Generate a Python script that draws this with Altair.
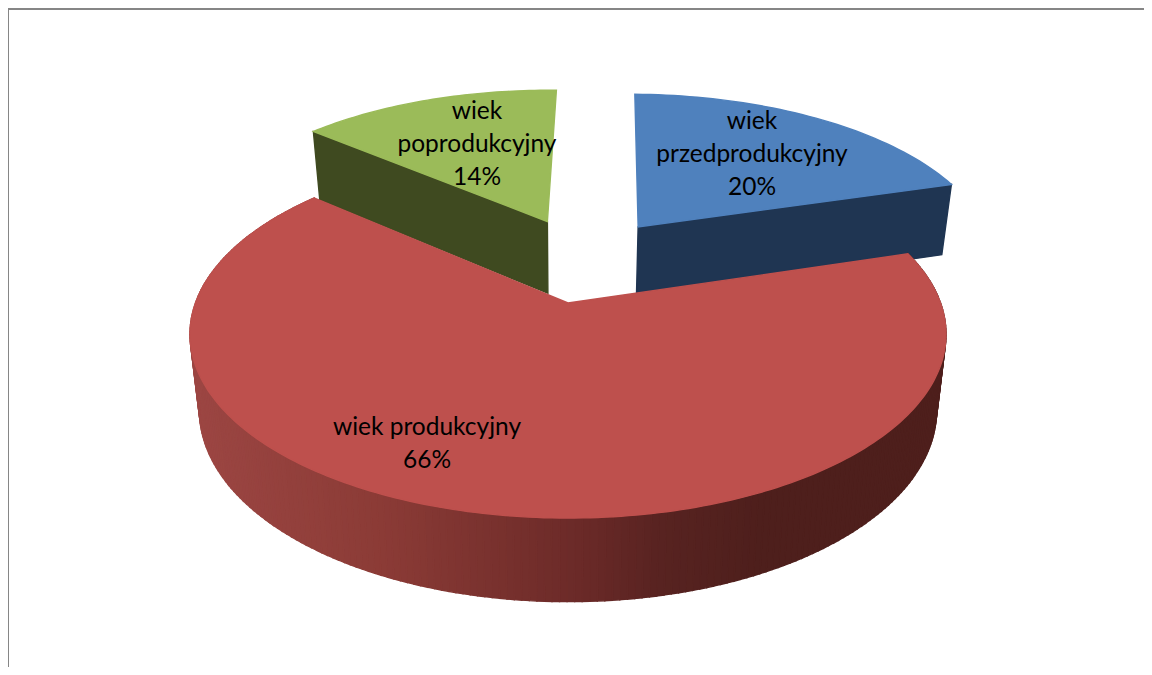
import math
import altair as alt

# --- values
categories = ["wiek przedprodukcyjny", "wiek produkcyjny", "wiek poprodukcyjny"]
shares = [20, 66, 14]
label_lines = [["wiek", "przedprodukcyjny", "20%"], ["wiek produkcyjny", "66%"], ["wiek", "poprodukcyjny", "14%"]]
top_colors = ["#4F81BD", "#BE504D", "#9BBB59"]
wall_colors = ["#1F3552", "#4E1F1C", "#3F4A20"]
explode_u = [0.203, 0.0, -0.06]
explode_v = [0.46, 0.0, 0.495]
label_x = [752, 427, 477]
label_y = [122, 428, 112]
rim_stops_x = [190, 380, 580, 660, 760, 950]
rim_stops_c = [(0x9C, 0x46, 0x43), (0x8B, 0x3B, 0x36), (0x6B, 0x2A, 0x28), (0x58, 0x23, 0x21), (0x4E, 0x1F, 0x1C), (0x4E, 0x1F, 0x1C)]
border_color = "#868686"

W, H = 1136, 659
OFF = 8  # page margin
CX, CY, A, B, K = 568, 303, 372.5, 178.5, 0.17
START = 1.2  # degrees


def top(u, v):
    s = 1 / (1 + K * v)
    return (CX + A * u * s, CY - B * v * s)


def bottom(p):
    x, y = p
    return (CX + 0.975 * (x - CX), CY + 1.04 * (y - CY) + 75)


def page(p):
    return [round(p[0] - OFF, 2), round(p[1] - OFF, 2)]


def rim_color(x):
    for i in range(len(rim_stops_x) - 1):
        if x <= rim_stops_x[i + 1]:
            t = max(0, (x - rim_stops_x[i]) / (rim_stops_x[i + 1] - rim_stops_x[i]))
            c = [round(a + (b - a) * t) for a, b in zip(rim_stops_c[i], rim_stops_c[i + 1])]
            return "#%02x%02x%02x" % tuple(c)
    return "#%02x%02x%02x" % rim_stops_c[-1]


def feature(points, fill):
    ring = [page(p) for p in points]
    ring.append(ring[0])
    return {"type": "Feature", "properties": {"fill": fill},
            "geometry": {"type": "Polygon", "coordinates": [ring]}}


def arc(start, end, du, dv, n):
    out = []
    for i in range(n + 1):
        t = math.radians(start + (end - start) * i / n)
        out.append(top(du + math.sin(t), dv + math.cos(t)))
    return out


bounds = [START]
for share in shares:
    bounds.append(bounds[-1] + 3.6 * share)

features = []
# Exploded slices first: the walls facing the viewer, then their top faces
for i in (0, 2):
    du, dv = explode_u[i], explode_v[i]
    apex = top(du, dv)
    edge = arc(bounds[i], bounds[i + 1], du, dv, 48)
    corner = edge[-1] if i == 0 else edge[0]
    features.append(feature([apex, corner, bottom(corner), bottom(apex)], wall_colors[i]))
    features.append(feature([apex] + edge, top_colors[i]))

# Large slice: the rim in vertical strips, then its top face
rim = arc(bounds[1], bounds[2], 0, 0, 240)
for a, b in zip(rim[:-1], rim[1:]):
    features.append(feature([a, b, bottom(b), bottom(a)], rim_color((a[0] + b[0]) / 2)))
features.append(feature([top(0, 0)] + rim, top_colors[1]))

# Frame of the chart area, along the top and left page edges
frame = [
    feature([(OFF, 8), (OFF + W, 8), (OFF + W, 10), (OFF, 10)], border_color),
    feature([(OFF, 8), (OFF + 1, 8), (OFF + 1, OFF + H), (OFF, OFF + H)], border_color),
]

line_height = 33
text_rows = []
for lines, lx, ly in zip(label_lines, label_x, label_y):
    for j, line in enumerate(lines):
        text_rows.append({"t": line, "lon": lx - OFF, "lat": ly + j * line_height - OFF})

proj = dict(type="identity", scale=1, translate=[0, 0])

shapes = (
    alt.Chart(alt.Data(values=features))
    .mark_geoshape(strokeWidth=1.4)
    .encode(
        color=alt.Color("properties.fill:N", scale=None),
        stroke=alt.Stroke("properties.fill:N", scale=None),
    )
    .project(**proj)
)

frame_layer = (
    alt.Chart(alt.Data(values=frame))
    .mark_geoshape(strokeWidth=0)
    .encode(color=alt.Color("properties.fill:N", scale=None))
    .project(**proj)
)

labels = (
    alt.Chart(alt.Data(values=text_rows))
    .mark_text(font="Lato", fontSize=24.5, color="#000000", align="center", baseline="middle")
    .encode(longitude="lon:Q", latitude="lat:Q", text="t:N")
    .project(**proj)
)

chart = (
    alt.layer(shapes, frame_layer, labels)
    .properties(width=W, height=H, padding=0, background="#FFFFFF")
    .configure_view(stroke=None)
)
chart.save("out.html", embed_options={"renderer": "svg", "actions": False})
